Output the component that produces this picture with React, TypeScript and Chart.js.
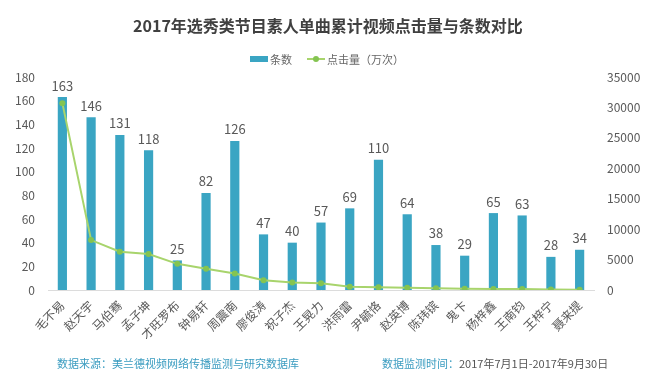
import React, { useEffect, useRef } from "react";
import { Chart, registerables } from "chart.js";

Chart.register(...registerables);

const title = "2017年选秀类节目素人单曲累计视频点击量与条数对比";
const barLabel = "条数";
const lineLabel = "点击量（万次）";
const sourceText = "数据来源：美兰德视频网络传播监测与研究数据库";
const periodLabel = "数据监测时间：";
const periodText = "2017年7月1日-2017年9月30日";

const names = [
  "毛不易", "赵天宇", "马伯骞", "孟子坤", "才旺罗布", "钟易轩", "周震南", "廖俊涛", "祝子杰", "王晃力",
  "洪雨雷", "尹毓恪", "赵英博", "陈玮镔", "鬼卞", "杨梓鑫", "王南钧", "王梓宁", "聂来提",
];
const counts = [163, 146, 131, 118, 25, 82, 126, 47, 40, 57, 69, 110, 64, 38, 29, 65, 63, 28, 34];
const clicks = [30700, 8200, 6300, 5900, 4300, 3500, 2700, 1600, 1250, 1100, 550, 450, 380, 300, 200, 180, 150, 80, 60];

const leftMax = 180;
const leftStep = 20;
const rightMax = 35000;
const rightStep = 5000;

const BAR = "#3aa5c3";
const LINE = "#a8d46c";
const POINT = "#84c451";
const TEXT = "#595959";
const FONT = "'Microsoft YaHei', 'Noto Sans CJK SC', 'Open Sans', sans-serif";

export default function App() {
  const ref = useRef<HTMLCanvasElement>(null);

  useEffect(() => {
    const valueLabels = {
      id: "valueLabels",
      afterDatasetsDraw(chart: any) {
        const ctx = chart.ctx;
        const meta = chart.getDatasetMeta(1);
        ctx.save();
        ctx.font = `13px ${FONT}`;
        ctx.fillStyle = TEXT;
        ctx.textAlign = "center";
        ctx.textBaseline = "bottom";
        meta.data.forEach((el: any, i: number) => {
          ctx.fillText(String(counts[i]), el.x, el.y - 5);
        });
        ctx.restore();
      },
    };

    const chart = new Chart(ref.current!, {
      type: "bar",
      data: {
        labels: names,
        datasets: [
          {
            type: "line",
            label: lineLabel,
            data: clicks,
            yAxisID: "y1",
            borderColor: LINE,
            borderWidth: 2,
            pointRadius: 3,
            pointBackgroundColor: POINT,
            pointBorderWidth: 0,
            tension: 0,
            order: 1,
          } as any,
          {
            type: "bar",
            label: barLabel,
            data: counts,
            yAxisID: "y",
            backgroundColor: BAR,
            barPercentage: 0.32,
            categoryPercentage: 1,
            order: 2,
          },
        ],
      },
      options: {
        responsive: false,
        animation: false,
        layout: { padding: { top: 77, bottom: 48, left: 0, right: 0 } },
        plugins: {
          legend: { display: false },
          title: { display: false },
          tooltip: { enabled: false },
        },
        scales: {
          x: {
            grid: { display: false, drawTicks: false },
            border: { display: true, color: "#dcdcdc" },
            ticks: {
              autoSkip: false,
              minRotation: 45,
              maxRotation: 45,
              padding: 8,
              color: TEXT,
              font: { size: 12, family: FONT },
            },
            afterFit(s: any) {
              s.height = 50;
            },
          },
          y: {
            position: "left",
            min: 0,
            max: leftMax,
            grid: { display: false, drawTicks: false },
            border: { display: false },
            ticks: { stepSize: leftStep, padding: 13, color: TEXT, font: { size: 12, family: FONT } },
            afterFit(s: any) {
              s.width = 48;
            },
          },
          y1: {
            position: "right",
            min: 0,
            max: rightMax,
            grid: { display: false, drawTicks: false },
            border: { display: false },
            ticks: {
              stepSize: rightStep,
              padding: 13,
              color: TEXT,
              font: { size: 12, family: FONT },
              callback: (v: any) => String(v),
            },
            afterFit(s: any) {
              s.width = 62;
            },
          },
        },
      } as any,
      plugins: [valueLabels],
    });
    return () => chart.destroy();
  }, []);

  return (
    <div
      style={{
        position: "absolute",
        left: 0,
        top: 0,
        width: 656,
        height: 388,
        background: "#fff",
        fontFamily: FONT,
        overflow: "hidden",
      }}
    >
      <canvas ref={ref} width={656} height={388} style={{ position: "absolute", left: 0, top: 0 }} />
      <div
        style={{
          position: "absolute",
          left: 0,
          top: 14,
          width: 656,
          textAlign: "center",
          fontSize: 16,
          lineHeight: "22px",
          fontWeight: "bold",
          color: "#404040",
          whiteSpace: "nowrap",
        }}
      >
        {title}
      </div>
      <div
        style={{
          position: "absolute",
          left: 250,
          top: 52,
          height: 14,
          display: "flex",
          alignItems: "center",
          fontSize: 11,
          color: "#666",
          whiteSpace: "nowrap",
        }}
      >
        <span style={{ display: "inline-block", width: 18, height: 6, background: BAR, marginRight: 2 }} />
        <span>{barLabel}</span>
        <span style={{ display: "inline-block", position: "relative", width: 18, height: 2, background: LINE, marginLeft: 15, marginRight: 2 }}>
          <span
            style={{
              position: "absolute",
              left: 6,
              top: -2,
              width: 6,
              height: 6,
              borderRadius: 3,
              background: POINT,
            }}
          />
        </span>
        <span>{lineLabel}</span>
      </div>
      <div
        style={{
          position: "absolute",
          left: 57,
          top: 356,
          fontSize: 11,
          lineHeight: "14px",
          color: "#3a9cc0",
          whiteSpace: "nowrap",
        }}
      >
        {sourceText}
      </div>
      <div
        style={{
          position: "absolute",
          left: 382,
          top: 356,
          fontSize: 11,
          lineHeight: "14px",
          color: "#555",
          whiteSpace: "nowrap",
        }}
      >
        <span style={{ color: "#3a9cc0" }}>{periodLabel}</span>
        {periodText}
      </div>
    </div>
  );
}
